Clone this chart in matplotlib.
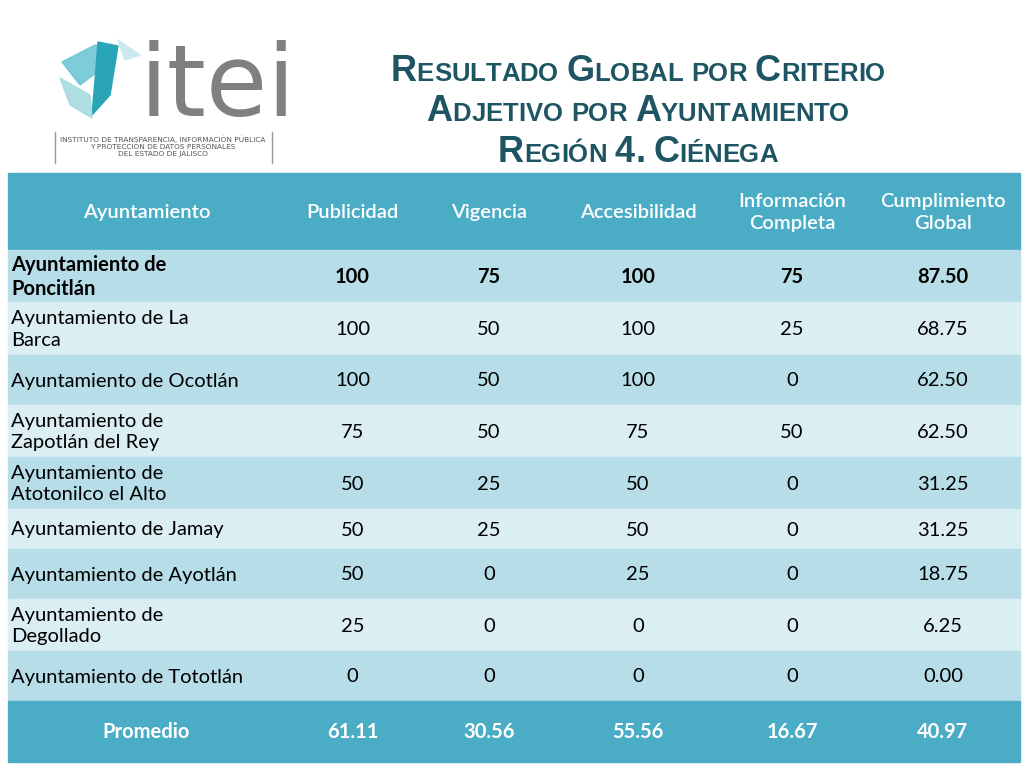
import matplotlib
matplotlib.use("Agg")
import matplotlib.pyplot as plt
from matplotlib.patches import Rectangle, Polygon

headers = ["Ayuntamiento", "Publicidad", "Vigencia", "Accesibilidad",
           "Información\nCompleta", "Cumplimiento\nGlobal"]
ayuntamientos = [
    "Ayuntamiento de\nPoncitlán", "Ayuntamiento de La\nBarca", "Ayuntamiento de Ocotlán",
    "Ayuntamiento de\nZapotlán del Rey", "Ayuntamiento de\nAtotonilco el Alto",
    "Ayuntamiento de Jamay", "Ayuntamiento de Ayotlán", "Ayuntamiento de\nDegollado",
    "Ayuntamiento de Tototlán",
]
publicidad = [100, 100, 100, 75, 50, 50, 50, 25, 0]
vigencia = [75, 50, 50, 50, 25, 25, 0, 0, 0]
accesibilidad = [100, 100, 100, 75, 50, 50, 25, 0, 0]
info_completa = [75, 25, 0, 50, 0, 0, 0, 0, 0]
cumplimiento = [87.50, 68.75, 62.50, 62.50, 31.25, 31.25, 18.75, 6.25, 0.00]
promedio = ["61.11", "30.56", "55.56", "16.67", "40.97"]

HEAD = "#4bacc6"
DARK = "#b7dde8"
LIGHT = "#dbeef3"
TITLE = "#1e5563"
FONT = "Lato"

fig = plt.figure(figsize=(10.24, 7.68), dpi=100)
ax = fig.add_axes([0, 0, 1, 1])
ax.set_xlim(0, 1024)
ax.set_ylim(768, 0)
ax.axis("off")

col_x = [8, 285, 420, 558, 718, 866, 1020]
row_y = [173, 250, 302, 355, 405, 457, 509, 549, 599, 651, 701, 762]

# header
ax.add_patch(Rectangle((col_x[0], row_y[0]), col_x[-1] - col_x[0], row_y[1] - row_y[0], color=HEAD))
for j, h in enumerate(headers):
    ax.text((col_x[j] + col_x[j + 1]) / 2, (row_y[0] + row_y[1]) / 2 + 1, h, ha="center",
            va="center", color="white", fontsize=14.5, fontfamily=FONT, fontweight="semibold",
            linespacing=1.35)

# body
for i, name in enumerate(ayuntamientos):
    y0, y1 = row_y[i + 1], row_y[i + 2]
    ax.add_patch(Rectangle((col_x[0], y0), col_x[-1] - col_x[0], y1 - y0,
                           color=DARK if i % 2 == 0 else LIGHT))
    bold = "bold" if i == 0 else "normal"
    yc = (y0 + y1) / 2 + 1
    ax.text(col_x[0] + 3, yc, name, ha="left", va="center", fontsize=14.5,
            fontfamily=FONT, fontweight=bold, linespacing=1.3, color="black")
    vals = [str(publicidad[i]), str(vigencia[i]), str(accesibilidad[i]),
            str(info_completa[i]), f"{cumplimiento[i]:.2f}"]
    for j, v in enumerate(vals):
        ax.text((col_x[j + 1] + col_x[j + 2]) / 2, yc, v, ha="center", va="center",
                fontsize=14.5, fontfamily=FONT, fontweight=bold, color="black")

# promedio
ax.add_patch(Rectangle((col_x[0], row_y[-2]), col_x[-1] - col_x[0], row_y[-1] - row_y[-2], color=HEAD))
yc = (row_y[-2] + row_y[-1]) / 2 + 1
ax.text((col_x[0] + col_x[1]) / 2, yc, "Promedio", ha="center", va="center",
        color="white", fontsize=14.5, fontweight="bold", fontfamily=FONT)
for j, v in enumerate(promedio):
    ax.text((col_x[j + 1] + col_x[j + 2]) / 2, yc, v, ha="center", va="center",
            color="white", fontsize=14.5, fontweight="bold", fontfamily=FONT)

# title in small caps
renderer = fig.canvas.get_renderer()
title_lines = ["Resultado Global por Criterio", "Adjetivo por Ayuntamiento", "Región 4. Ciénega"]
title_y = [81, 121, 162]
for line, y in zip(title_lines, title_y):
    pieces = []
    for wi, word in enumerate(line.split(" ")):
        if wi:
            pieces.append((" ", 17))
        for ch in word:
            pieces.append((ch.upper(), 26 if (ch.isupper() or ch.isdigit() or ch == ".") else 18.5))
    texts, widths = [], []
    for s, fs in pieces:
        t = ax.text(0, y, s, fontsize=fs, fontweight="bold", color=TITLE,
                    fontfamily="Liberation Sans", va="baseline", ha="left")
        texts.append(t)
        widths.append(t.get_window_extent(renderer).width if s != " " else 8)
    x = 638 - sum(widths) / 2
    for t, w in zip(texts, widths):
        t.set_x(x)
        x += w

# logo
ax.add_patch(Polygon([(62, 62), (95, 45), (112, 48), (100, 70), (80, 85)], closed=True,
                     color="#5fc0d0", alpha=0.8))
ax.add_patch(Polygon([(98, 42), (118, 46), (110, 95), (92, 115), (95, 80)], closed=True,
                     color="#2aa5b8"))
ax.add_patch(Polygon([(60, 78), (90, 95), (92, 118), (70, 105)], closed=True,
                     color="#a8dbe3", alpha=0.9))
ax.add_patch(Polygon([(118, 40), (140, 55), (125, 60)], closed=True, color="#c9e9ee"))
ax.text(140, 116, "itei", fontsize=72, color="#808080", fontfamily="Liberation Sans Narrow",
        va="baseline", ha="left")
ax.plot([55, 55], [132, 163], color="#999999", lw=1)
ax.plot([272, 272], [132, 163], color="#999999", lw=1)
ax.text(163, 146, "INSTITUTO DE TRANSPARENCIA, INFORMACIÓN PÚBLICA\nY PROTECCIÓN DE DATOS PERSONALES\nDEL ESTADO DE JALISCO",
        ha="center", va="center", fontsize=5.3, color="#555555", linespacing=1.1,
        fontfamily="Liberation Sans Narrow")

fig.savefig("out.png", dpi=100)
